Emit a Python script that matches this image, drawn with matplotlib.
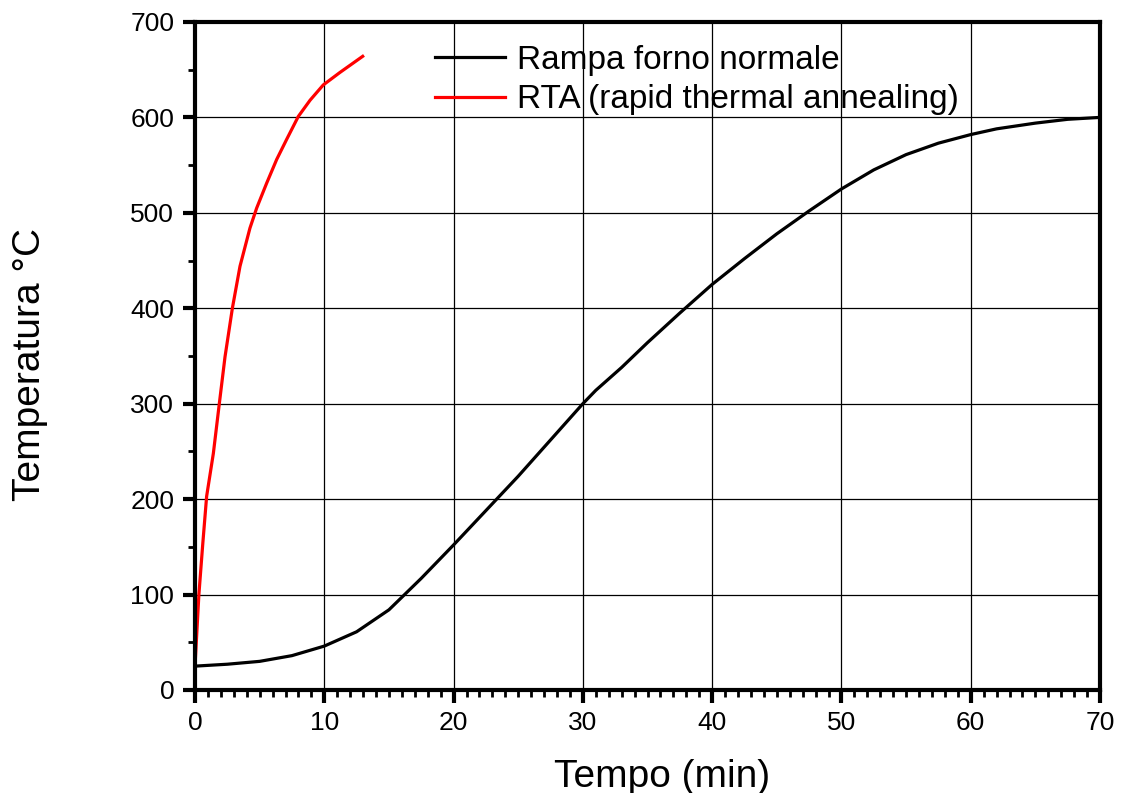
import matplotlib
matplotlib.use("Agg")
import matplotlib.pyplot as plt
from matplotlib.ticker import MultipleLocator

plt.rcParams["font.family"] = ["Liberation Sans", "DejaVu Sans"]

# Rampa forno normale (minutes, degC)
oven_t = [0, 2.5, 5, 7.5, 10, 12.5, 15, 17.5, 20, 22.5, 25, 27.5, 30, 31,
          33, 35, 37.5, 40, 42.5, 45, 47.5, 50, 52.5, 55, 57.5, 60, 62,
          65, 67.5, 70]
oven_T = [25, 27, 30, 36, 46, 61, 84, 117, 152, 188, 224, 262, 300, 314,
          338, 364, 395, 425, 452, 478, 502, 525, 545, 561, 573, 582, 588,
          594, 598, 600]

# RTA (rapid thermal annealing)
rta_t = [0, 0.3, 0.6, 0.9, 1.42, 1.88, 2.32, 2.89, 3.48, 4.25, 4.77, 5.54,
         6.32, 7.09, 7.99, 8.9, 9.92, 11.2, 12.97]
rta_T = [25, 100, 153, 203, 248, 300, 349, 400, 444, 484, 505, 531,
         556, 577, 601, 618, 634, 647, 664]

fig = plt.figure(figsize=(11.22, 7.93), dpi=100)
ax = fig.add_axes([0.1738, 0.1299, 0.8066, 0.8424])

ax.plot(oven_t, oven_T, color="black", lw=2.3, label="Rampa forno normale")
ax.plot(rta_t, rta_T, color="#ff0000", lw=2.3,
        label="RTA (rapid thermal annealing)")

ax.set_xlim(0, 70)
ax.set_ylim(0, 700)
ax.xaxis.set_major_locator(MultipleLocator(10))
ax.xaxis.set_minor_locator(MultipleLocator(1))
ax.yaxis.set_major_locator(MultipleLocator(100))
ax.yaxis.set_minor_locator(MultipleLocator(50))
ax.grid(True, which="major", color="black", lw=0.9)

for s in ax.spines.values():
    s.set_linewidth(3)
ax.tick_params(which="major", direction="out", length=9, width=3,
               labelsize=19, pad=6)
ax.tick_params(which="minor", direction="out", length=5, width=2)

ax.set_xlabel("Tempo (min)", fontsize=28)
ax.set_ylabel("Temperatura °C", fontsize=28)
ax.xaxis.set_label_coords(0.5165, -0.103)
ax.yaxis.set_label_coords(-0.162, 0.4865)

ax.legend(loc="upper left", bbox_to_anchor=(0.251, 0.986), frameon=False,
          fontsize=24, handlelength=2.1, handletextpad=0.35,
          labelspacing=0.26, borderaxespad=0)

fig.savefig("out.png", dpi=100)
